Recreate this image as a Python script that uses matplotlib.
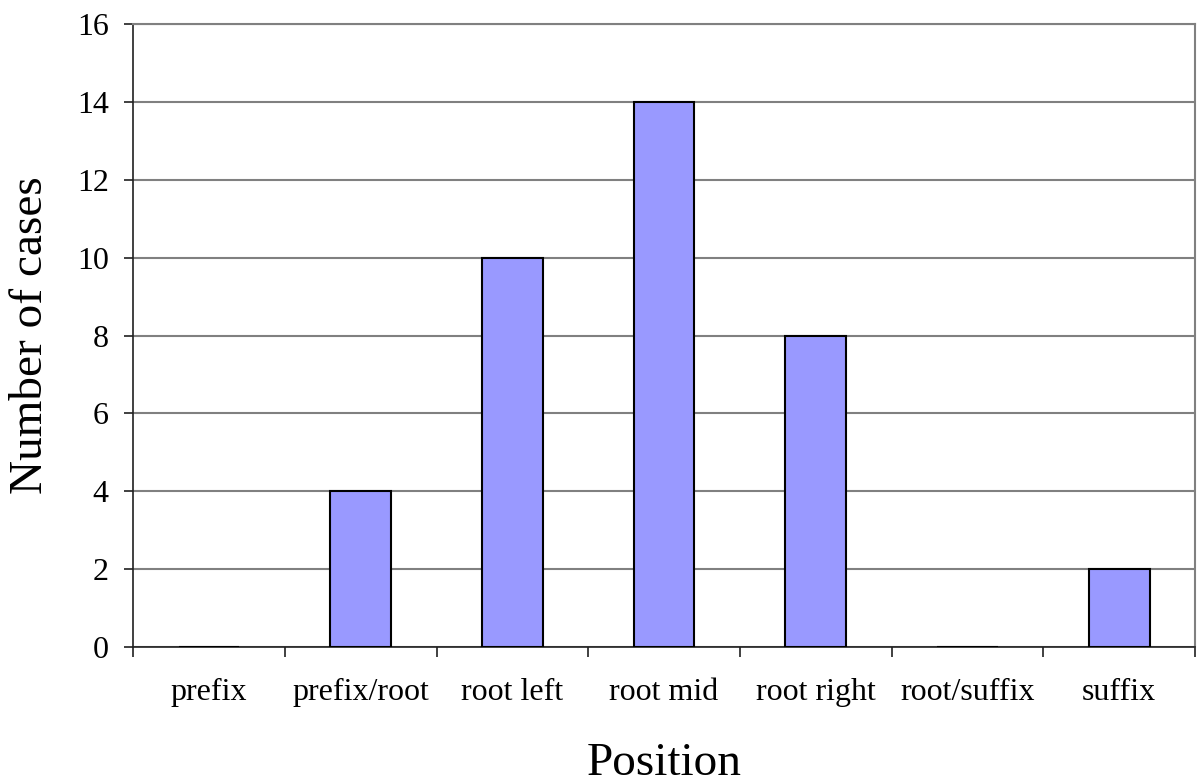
import numpy as np
import matplotlib
matplotlib.use('Agg')
import matplotlib.pyplot as plt

positions = ['prefix', 'prefix/root', 'root left', 'root mid', 'root right', 'root/suffix', 'suffix']
cases = [0, 4, 10, 14, 8, 0, 2]

plt.rcParams['font.family'] = ['Liberation Serif', 'DejaVu Serif']

fig = plt.figure(figsize=(12.02, 7.84), dpi=100)
ax = fig.add_axes([0.1107, 0.1747, 0.8836, 0.7947])

x = np.arange(len(positions))
ax.bar(x, cases, width=0.4, color='#9999FF', edgecolor='black', linewidth=1.5, zorder=3)

ax.set_xlim(-0.5, len(positions) - 0.5)
ax.set_ylim(0, 16)
ax.set_yticks(range(0, 17, 2))
ax.yaxis.grid(True, color='#808080', linewidth=1.5, zorder=0)

# ticks at category boundaries, labels centred under bars
ax.set_xticks(np.arange(-0.5, len(positions), 1.0))
ax.set_xticklabels([])
ax.set_xticks(x, minor=True)
ax.set_xticklabels(positions, minor=True, fontsize=23)
ax.tick_params(axis='x', which='major', direction='out', length=7, width=1.2, color='#202020')
ax.tick_params(axis='x', which='minor', length=0, pad=22)
ax.tick_params(axis='y', direction='out', length=6.5, width=1.2, color='#202020', labelsize=23, pad=11)

for side in ['top', 'right']:
    ax.spines[side].set_color('#808080')
    ax.spines[side].set_linewidth(1.5)
for side in ['left', 'bottom']:
    ax.spines[side].set_color('#202020')
    ax.spines[side].set_linewidth(1.2)

ax.set_ylabel('Number of cases', fontsize=34, labelpad=18)
ax.set_xlabel('Position', fontsize=34, labelpad=26)

fig.savefig('out.png', dpi=100)
